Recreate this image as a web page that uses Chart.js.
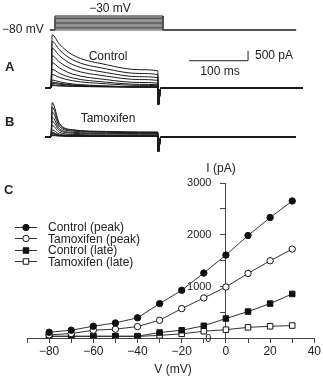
<!DOCTYPE html>
<html>
<head>
<meta charset="utf-8">
<script src="https://cdn.jsdelivr.net/npm/chart.js@4.4.0/dist/chart.umd.min.js"></script>
<style>
  body { margin: 0; background: #fff; width: 323px; height: 376px; overflow: hidden; position: relative;
         font-family: "Liberation Sans", Arial, sans-serif; color: #222; }
  canvas { position: absolute; left: 0; }
  .t { position: absolute; font-size: 12px; line-height: 12px; white-space: nowrap; }
  .c { transform: translate(-50%, -50%); }
  .l { transform: translateY(-50%); }
  .big { font-size: 13px; font-weight: bold; }
  .icon { position: absolute; left: 14px; }
</style>
</head>
<body>
<canvas id="protocol" width="323" height="40" style="top:0px"></canvas>
<canvas id="traceA" width="323" height="80" style="top:30px"></canvas>
<canvas id="traceB" width="323" height="65" style="top:95px"></canvas>
<canvas id="iv" width="323" height="226" style="top:150px"></canvas>

<div class="t c" style="left:110px;top:8px">−30 mV</div>
<div class="t l" style="left:2px;top:29px">−80 mV</div>
<div class="t l big" style="left:5px;top:67px">A</div>
<div class="t c" style="left:108px;top:56px">Control</div>
<div class="t l" style="left:255px;top:55px">500 pA</div>
<div class="t c" style="left:220px;top:71px">100 ms</div>
<div class="t l big" style="left:5px;top:122px">B</div>
<div class="t c" style="left:108px;top:118px">Tamoxifen</div>
<div class="t l big" style="left:4px;top:190px">C</div>
<div class="t c" style="left:221px;top:168px">I (pA)</div>
<div class="t c" style="left:173px;top:369px">V (mV)</div>
<div id="legend"></div>

<script>
// I-V data (mV, pA)
const ivVoltages    = [-80, -70, -60, -50, -40, -30, -20, -10, 0, 10, 20, 30];
const controlPeak   = [120, 160, 237, 300, 400, 673, 930, 1263, 1610, 1987, 2333, 2654];
const tamoxifenPeak = [70, 95, 160, 180, 230, 352, 577, 782, 994, 1256, 1500, 1725];
const controlLate   = [45, 45, 45, 45, 45, 115, 160, 245, 385, 519, 673, 860];
const tamoxifenLate = [40, 40, 40, 40, 40, 60, 90, 140, 170, 215, 235, 250];

// decay of the current traces, fraction of (peak - late) left at each time (ms)
const decayTimes     = [2, 14, 36, 94, 150, 181];
const controlDecay   = [1, 0.75, 0.45, 0.17, 0.03, 0];
const tamoxifenDecay = [1, 0.31, 0.08, 0.02, 0, 0];
const tailCurrent = { control: -850, tamoxifen: -750 };
const pulseLength = 183;   // ms
const holdingV = -80;
const scaleBarMs = 100, scaleBarPA = 500;

Chart.defaults.font.family = '"Liberation Sans", Arial, sans-serif';
Chart.defaults.color = '#222';

function plainChart(id, xMin, xMax, yMin, yMax, datasets) {
  return new Chart(document.getElementById(id), {
    type: 'line',
    data: { datasets },
    options: {
      responsive: false, animation: false, events: [],
      layout: { padding: 0 },
      plugins: { legend: { display: false }, tooltip: { enabled: false } },
      elements: { point: { radius: 0 }, line: { borderWidth: 1 } },
      scales: {
        x: { type: 'linear', min: xMin, max: xMax, display: false, bounds: 'data' },
        y: { type: 'linear', min: yMin, max: yMax, display: false, bounds: 'data' }
      }
    }
  });
}

// voltage protocol
const protocolSets = ivVoltages.map((v, i) => ({
  data: [{x: -8.5, y: holdingV}, {x: 0, y: holdingV}, {x: 0, y: v}, {x: pulseLength, y: v},
         {x: pulseLength, y: holdingV}, {x: 408.5, y: holdingV}],
  borderColor: i === ivVoltages.length - 1 ? '#222' : '#555',
  tension: 0
}));
plainChart('protocol', -93.2, 454.2, -158.6, 155.7, protocolSets);

function sweep(peak, late, decay, tail, end) {
  const pts = [{x: -10, y: 0}, {x: 0, y: 0}];
  decayTimes.forEach((t, k) => pts.push({x: t, y: late + (peak - late) * decay[k]}));
  pts.push({x: 182, y: tail}, {x: 186, y: 0}, {x: end, y: 0});
  return pts;
}
function traceSets(peaks, lates, decay, tail, end) {
  return peaks.map((p, i) => ({
    data: sweep(p, lates[i], decay, tail, end),
    borderColor: '#1a1a1a',
    cubicInterpolationMode: 'monotone'
  }));
}

const setsA = traceSets(controlPeak, controlLate, controlDecay, tailCurrent.control, 427);
const barAnchor = { x: 234, y: 1365 };
setsA.push({
  data: [{x: barAnchor.x, y: barAnchor.y}, {x: barAnchor.x + scaleBarMs, y: barAnchor.y},
         {x: barAnchor.x + scaleBarMs, y: barAnchor.y + scaleBarPA}],
  borderColor: '#222', tension: 0
});
plainChart('traceA', -86.4, 461, -1100, 2900, setsA);
plainChart('traceB', -86.4, 461, -1150, 2100,
  traceSets(tamoxifenPeak, tamoxifenLate, tamoxifenDecay, tailCurrent.tamoxifen, 415));

// I-V plot
const minus = v => String(v).replace('-', '−');
const yLabelGap = '    \u2009';   // pushes the y labels off the centred axis
const series = [
  { label: 'Control (peak)',   values: controlPeak,   style: 'circle', r: 3.2, fill: '#111' },
  { label: 'Tamoxifen (peak)', values: tamoxifenPeak, style: 'circle', r: 3.2, fill: '#fff' },
  { label: 'Control (late)',   values: controlLate,   style: 'rect',   r: 3.9, fill: '#111' },
  { label: 'Tamoxifen (late)', values: tamoxifenLate, style: 'rect',   r: 3.9, fill: '#fff' }
];

new Chart(document.getElementById('iv'), {
  type: 'line',
  data: {
    datasets: series.map(s => ({
      label: s.label,
      data: s.values.map((y, i) => ({x: ivVoltages[i], y})),
      borderColor: '#333', borderWidth: 1, tension: 0,
      pointStyle: s.style, pointRadius: s.r,
      pointBackgroundColor: s.fill, pointBorderColor: '#111', pointBorderWidth: 1
    }))
  },
  options: {
    responsive: false, animation: false, events: [],
    layout: { padding: { left: 27, right: 8, top: 33, bottom: 37.5 } },
    plugins: { legend: { display: false }, tooltip: { enabled: false } },
    scales: {
      x: {
        type: 'linear', min: -90, max: 40, position: { y: 0 },
        ticks: { stepSize: 10, autoSkip: false, maxRotation: 0, padding: 2,
                 font: { size: 12 }, callback: v => (v % 20 === 0 ? minus(v) : '') },
        grid: { drawOnChartArea: false, tickLength: 4, color: '#444' },
        border: { color: '#444' }
      },
      y: {
        type: 'linear', min: 0, max: 3000, position: { x: 0 },
        ticks: { stepSize: 500, autoSkip: false,
                 font: { size: 11 }, callback: v => (v % 1000 === 0 ? v + yLabelGap : '') },
        grid: { drawOnChartArea: false, tickLength: 5, color: '#444' },
        border: { color: '#444' }
      }
    }
  }
});

// legend
const legendRows = [227, 238.5, 250, 261.5];
const legend = document.getElementById('legend');
series.forEach((s, i) => {
  const cv = document.createElement('canvas');
  cv.width = 24; cv.height = 11;
  cv.className = 'icon';
  cv.style.top = (legendRows[i] - 5.5) + 'px';
  legend.appendChild(cv);
  const ctx = cv.getContext('2d');
  ctx.strokeStyle = '#333'; ctx.lineWidth = 1;
  ctx.beginPath(); ctx.moveTo(1, 5.5); ctx.lineTo(23, 5.5); ctx.stroke();
  ctx.fillStyle = s.fill; ctx.strokeStyle = '#111';
  Chart.helpers.drawPoint(ctx, { pointStyle: s.style, radius: s.r, rotation: 0, borderWidth: 1 }, 12, 5.5);
  const tx = document.createElement('div');
  tx.className = 't l';
  tx.style.left = '48px';
  tx.style.top = legendRows[i] + 'px';
  tx.textContent = s.label;
  legend.appendChild(tx);
});
</script>
</body>
</html>
